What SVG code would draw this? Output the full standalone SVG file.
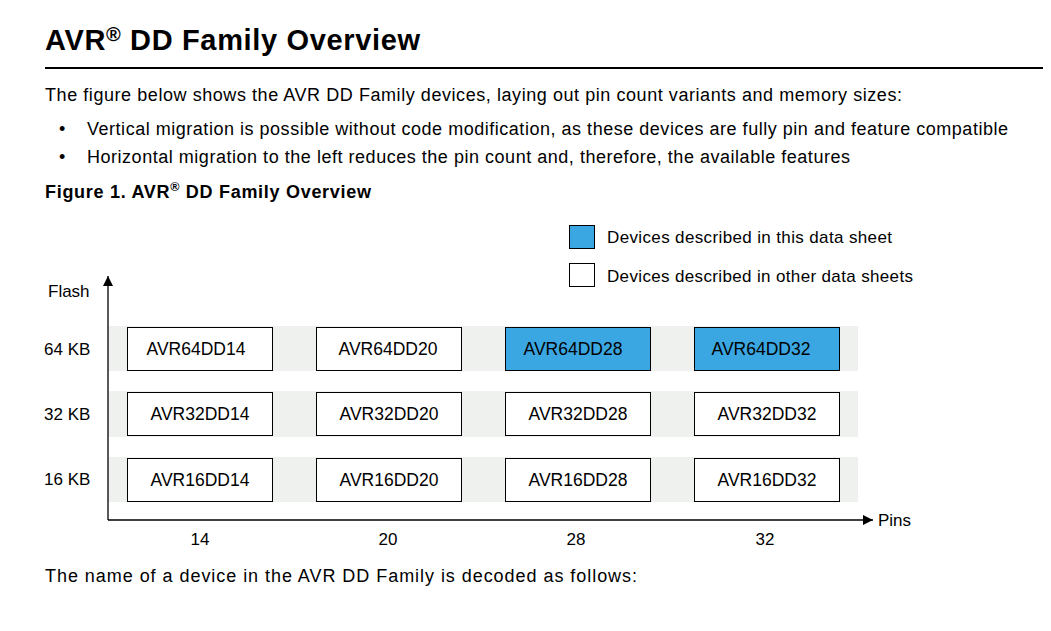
<svg xmlns="http://www.w3.org/2000/svg" width="1051" height="631" viewBox="0 0 1051 631">
<style>
text{font-family:"Liberation Sans",Arial,sans-serif;fill:#000}
.p{font-size:18px}
.lbl{font-size:17px}
.dev{font-size:17.5px;text-anchor:middle}
.band{fill:#eef1ee}
.box{fill:#fff;stroke:#000;stroke-width:1}
.blue{fill:#3ba7e2;stroke:#000;stroke-width:1}
.axis{stroke:#000;stroke-width:1.3;fill:none}
</style>
<defs>
<marker id="arr" viewBox="0 0 10 10" refX="10" refY="5" markerWidth="10" markerHeight="10" markerUnits="userSpaceOnUse" orient="auto"><path d="M0,0 L10,5 L0,10 z" fill="#000"/></marker>
</defs>
<rect width="1051" height="631" fill="#fff"/>
<g id="header">
<text x="45" y="50" font-size="29" font-weight="bold" textLength="375" lengthAdjust="spacing">AVR<tspan font-size="20" dy="-9">®</tspan><tspan dy="9"> DD Family Overview</tspan></text>
<rect x="45" y="67" width="998" height="2" fill="#000"/>
<text class="p" x="45" y="101" textLength="857" lengthAdjust="spacing">The figure below shows the AVR DD Family devices, laying out pin count variants and memory sizes:</text>
<text class="p" x="59" y="135">•</text>
<text class="p" x="87" y="135" textLength="921" lengthAdjust="spacing">Vertical migration is possible without code modification, as these devices are fully pin and feature compatible</text>
<text class="p" x="59" y="163">•</text>
<text class="p" x="87" y="163" textLength="763" lengthAdjust="spacing">Horizontal migration to the left reduces the pin count and, therefore, the available features</text>
<text x="45" y="198" font-size="18" font-weight="bold" textLength="326" lengthAdjust="spacing">Figure 1. AVR<tspan font-size="12.5" dy="-7">®</tspan><tspan dy="7"> DD Family Overview</tspan></text>
<text class="p" x="45" y="582" textLength="592" lengthAdjust="spacing">The name of a device in the AVR DD Family is decoded as follows:</text>
</g>
<g id="legend">
<rect class="blue" x="569.5" y="225.5" width="25" height="23"/>
<text class="lbl" x="607" y="243" textLength="285" lengthAdjust="spacing">Devices described in this data sheet</text>
<rect class="box" x="569.5" y="263.5" width="25" height="23"/>
<text class="lbl" x="607" y="282" textLength="306" lengthAdjust="spacing">Devices described in other data sheets</text>
</g>
<g id="bands">
<rect class="band" x="108" y="326" width="750" height="45"/>
<rect class="band" x="108" y="391" width="750" height="46"/>
<rect class="band" x="108" y="457" width="750" height="45"/>
</g>
<g id="connectors">
<line class="axis" x1="108" y1="520" x2="108" y2="276" marker-end="url(#arr)"/>
<line class="axis" x1="108" y1="520" x2="873" y2="520" marker-end="url(#arr)"/>
</g>
<g id="axis-labels">
<text class="lbl" x="48" y="297">Flash</text>
<text class="lbl" x="44" y="355">64 KB</text>
<text class="lbl" x="44" y="420">32 KB</text>
<text class="lbl" x="44" y="485">16 KB</text>
<text class="lbl" x="878" y="526">Pins</text>
<text class="lbl" x="200" y="545" text-anchor="middle">14</text>
<text class="lbl" x="388" y="545" text-anchor="middle">20</text>
<text class="lbl" x="576" y="545" text-anchor="middle">28</text>
<text class="lbl" x="765" y="545" text-anchor="middle">32</text>
</g>
<g id="AVR64DD14"><rect class="box" x="127.5" y="327.5" width="145" height="43"/><text class="dev" x="196" y="355">AVR64DD14</text></g>
<g id="AVR64DD20"><rect class="box" x="316.5" y="327.5" width="145" height="43"/><text class="dev" x="388" y="355">AVR64DD20</text></g>
<g id="AVR64DD28"><rect class="blue" x="505.5" y="327.5" width="145" height="43"/><text class="dev" x="573" y="355">AVR64DD28</text></g>
<g id="AVR64DD32"><rect class="blue" x="694.5" y="327.5" width="145" height="43"/><text class="dev" x="761" y="355">AVR64DD32</text></g>
<g id="AVR32DD14"><rect class="box" x="127.5" y="392.5" width="145" height="43"/><text class="dev" x="200" y="420">AVR32DD14</text></g>
<g id="AVR32DD20"><rect class="box" x="316.5" y="392.5" width="145" height="43"/><text class="dev" x="389" y="420">AVR32DD20</text></g>
<g id="AVR32DD28"><rect class="box" x="505.5" y="392.5" width="145" height="43"/><text class="dev" x="578" y="420">AVR32DD28</text></g>
<g id="AVR32DD32"><rect class="box" x="694.5" y="392.5" width="145" height="43"/><text class="dev" x="767" y="420">AVR32DD32</text></g>
<g id="AVR16DD14"><rect class="box" x="127.5" y="458.5" width="145" height="43"/><text class="dev" x="200" y="486">AVR16DD14</text></g>
<g id="AVR16DD20"><rect class="box" x="316.5" y="458.5" width="145" height="43"/><text class="dev" x="389" y="486">AVR16DD20</text></g>
<g id="AVR16DD28"><rect class="box" x="505.5" y="458.5" width="145" height="43"/><text class="dev" x="578" y="486">AVR16DD28</text></g>
<g id="AVR16DD32"><rect class="box" x="694.5" y="458.5" width="145" height="43"/><text class="dev" x="767" y="486">AVR16DD32</text></g>
</svg>
